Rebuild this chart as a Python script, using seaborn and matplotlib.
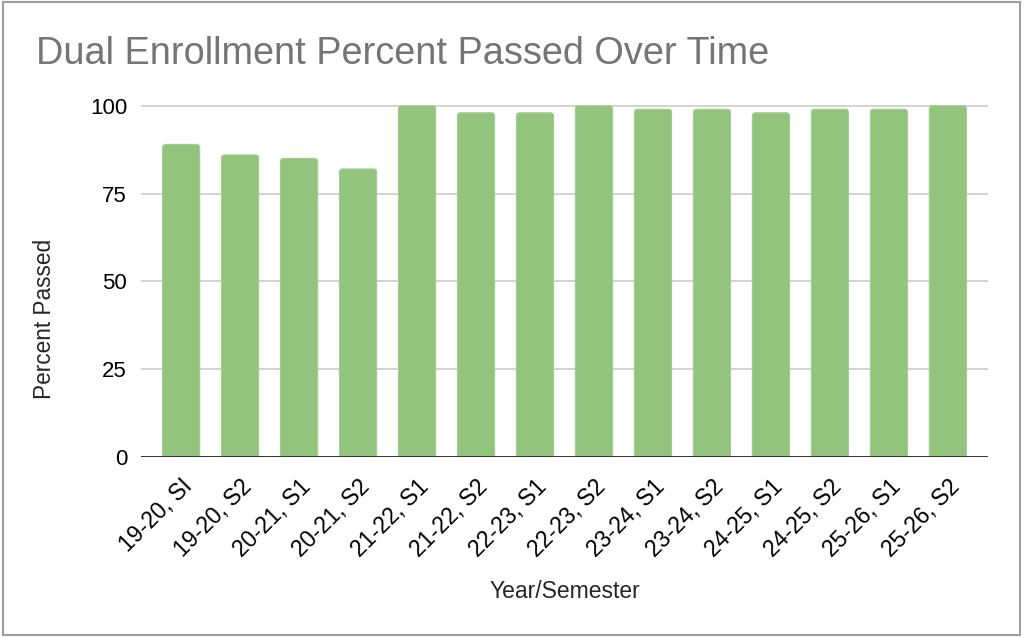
import pandas as pd
import seaborn as sns
import matplotlib.pyplot as plt
from matplotlib.patches import FancyBboxPatch, Rectangle

semesters = ["19-20, SI", "19-20, S2", "20-21, S1", "20-21, S2", "21-22, S1",
             "21-22, S2", "22-23, S1", "22-23, S2", "23-24, S1", "23-24, S2",
             "24-25, S1", "24-25, S2", "25-26, S1", "25-26, S2"]
percent_passed = [89, 86, 85, 82, 100, 98, 98, 100, 99, 99, 98, 99, 99, 100]
y_ticks = [0, 25, 50, 75, 100]

df = pd.DataFrame({"Year/Semester": semesters, "Percent Passed": percent_passed})

sns.set_style("white")
plt.rcParams['font.family'] = ['Liberation Sans', 'DejaVu Sans']

fig = plt.figure(figsize=(10.24, 6.38), dpi=100)
ax = fig.add_axes([141 / 1024, 1 - 457 / 638, 847 / 1024, 353 / 638])

sns.barplot(data=df, x="Year/Semester", y="Percent Passed", color="#93C47D",
            saturation=1, width=0.63, ax=ax)

# swap plain rectangles for rounded ones (bottom hidden below 0)
aspect = (100 / 353) / (14.36 / 847)
for p in list(ax.patches):
    x0, w, h = p.get_x(), p.get_width(), p.get_height()
    p.remove()
    ax.add_patch(FancyBboxPatch((x0, -2), w, h + 2,
                                boxstyle="round,pad=0,rounding_size=0.05",
                                mutation_aspect=aspect, fc="#93C47D",
                                ec="#A3CE8F", lw=0.8, zorder=2))

ax.set_xlim(-0.68, 13.68)
ax.set_ylim(0, 100.5)
ax.set_yticks(y_ticks)
for t in y_ticks[1:]:
    ax.axhline(t, color="#D0D0D0", lw=1.3, zorder=1)
ax.axhline(0, color="#333333", lw=1.4, zorder=3)
sns.despine(ax=ax, left=True, bottom=True)
ax.tick_params(axis="both", length=0, colors="#000000")
ax.tick_params(axis="y", pad=10, labelsize=16)
ax.tick_params(axis="x", pad=13, labelsize=16.5)
plt.setp(ax.get_xticklabels(), rotation=45, ha="right", rotation_mode="anchor")
ax.set_xlabel("")
ax.set_ylabel("")

fig.text(36 / 1024, 1 - 54 / 638, "Dual Enrollment Percent Passed Over Time",
         fontsize=27.3, color="#757575", va="center", ha="left")
fig.text(45 / 1024, 1 - 319 / 638, "Percent Passed", fontsize=16.3,
         rotation=90, ha="center", va="center")
fig.text(565 / 1024, 1 - 592 / 638, "Year/Semester", fontsize=16.5,
         ha="center", va="center")

fig.patches.append(Rectangle((3 / 1024, 3 / 638), 1017 / 1024, 633 / 638,
                             transform=fig.transFigure, fill=False,
                             ec="#9E9E9E", lw=1.5))

fig.savefig("out.png", dpi=100)
